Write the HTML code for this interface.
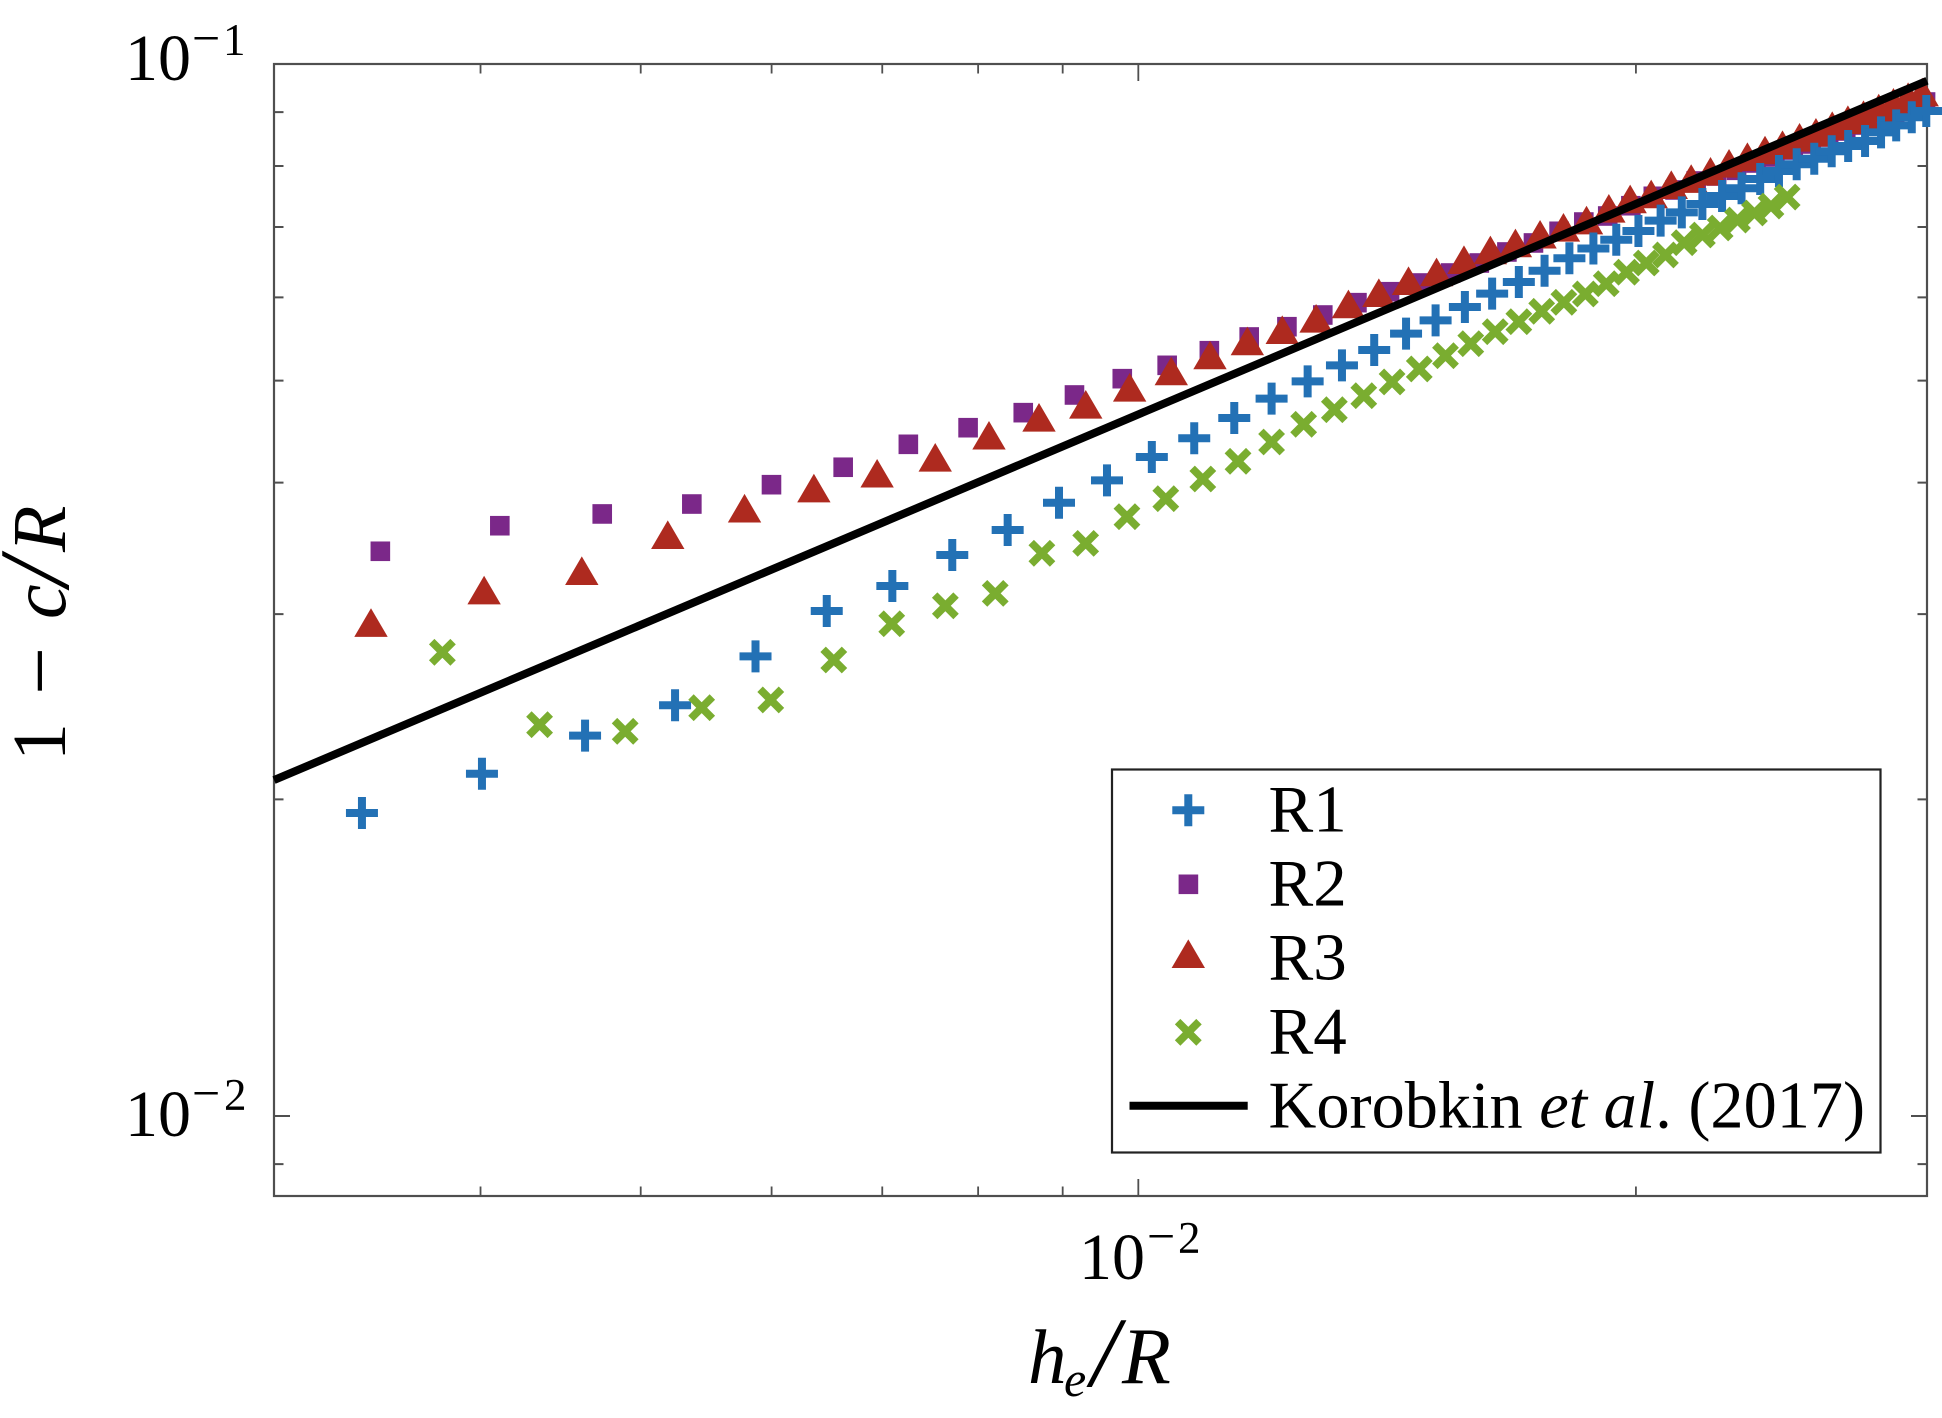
<!DOCTYPE html>
<html lang="en">
<head>
<meta charset="utf-8">
<title>1 - c/R versus h_e/R</title>
<style>
html,body{margin:0;padding:0;background:#fff;}
svg{display:block;}
text{font-family:"Liberation Serif","Times New Roman",serif;fill:#000;}
</style>
</head>
<body>
<svg id="chart" xmlns="http://www.w3.org/2000/svg" width="1942" height="1418" viewBox="0 0 1942 1418">
  <rect x="0" y="0" width="1942" height="1418" fill="#fff"/>
  <g id="ticks"></g>
  <rect x="274" y="64" width="1653" height="1132" fill="none" stroke="#4f4f4f" stroke-width="2.2"/>

  <text font-size="66" x="125" y="80">10<tspan x="192" y="55" font-size="50">−</tspan><tspan x="223" y="55" font-size="45">1</tspan></text>
  <text font-size="66" x="125" y="1136">10<tspan x="192" y="1110" font-size="50">−</tspan><tspan x="224" y="1110" font-size="45">2</tspan></text>
  <text font-size="66" x="1079" y="1279">10<tspan x="1147" y="1253" font-size="50">−</tspan><tspan x="1178" y="1253" font-size="45">2</tspan></text>

  <text font-style="italic" font-size="77" x="1028" y="1383">h<tspan x="1064" y="1396" font-size="50">e</tspan><tspan x="1091" y="1386" font-size="100">/</tspan><tspan x="1122" y="1383" font-size="80">R</tspan></text>
  <g transform="translate(65,752) rotate(-90)">
    <text font-size="76" x="-9" y="0">1<tspan x="57" y="3" font-size="85">−</tspan><tspan x="133" y="0" font-style="italic" font-size="78">c</tspan><tspan x="166" y="3" font-size="100" font-style="italic">/</tspan><tspan x="200" y="0" font-style="italic">R</tspan></text>
  </g>

  <g id="marks"></g>

  <g>
    <rect x="1112" y="769.5" width="768.5" height="383" fill="#fff" stroke="#222" stroke-width="2.2"/>
    <path d="M1172.3 810.3H1204.3M1188.3 794.3V826.3" stroke="#2371b5" stroke-width="8" fill="none"/>
    <rect x="1178.6" y="874.5" width="19.6" height="19.6" fill="#7b2889"/>
    <polygon points="1188.3,939.4 1205,968 1171.6,968" fill="#ae2a1f"/>
    <path d="M1177.6 1021.6L1199 1043M1199 1021.6L1177.6 1043" stroke="#7aad30" stroke-width="7.7" fill="none"/>
    <line x1="1129.5" y1="1105.7" x2="1247.7" y2="1105.7" stroke="#000" stroke-width="8"/>
    <text font-size="67" x="1268.5" y="831.7">R1</text>
    <text font-size="67" x="1268.5" y="905.7">R2</text>
    <text font-size="67" x="1268.5" y="979.7">R3</text>
    <text font-size="67" x="1268.5" y="1053.7">R4</text>
    <text font-size="66.3" x="1268.5" y="1127.3">Korobkin <tspan font-style="italic">et al</tspan>. (2017)</text>
  </g>
</svg>
<script>
var xMinorTicks = [0.004, 0.005, 0.006, 0.007, 0.008, 0.009, 0.02];
var xMajorTicks = [0.01];
var yMinorTicks = [0.009, 0.02, 0.03, 0.04, 0.05, 0.06, 0.07, 0.08, 0.09];
var yMajorTicks = [0.01];

var r1X = [0.003391,0.004008,0.004627,0.005245,0.005867,0.006479,0.007099,0.007717,0.008336,0.008954,0.009573,0.01019,0.01081,0.01143,0.01204,0.01266,0.01328,0.01389,0.01452,0.01513,0.01576,0.01637,0.01699,0.01761,0.01823,0.01885,0.01946,0.02007,0.02070,0.02132,0.02194,0.02255,0.02317,0.02378,0.02441,0.02502,0.02564,0.02627,0.02688,0.02752,0.02814,0.02874,0.02937,0.02997];
var r1Y = [0.01941,0.02115,0.02299,0.02457,0.02735,0.03020,0.03190,0.03414,0.03606,0.03828,0.04020,0.04231,0.04408,0.04608,0.04807,0.04993,0.05171,0.05347,0.05542,0.05706,0.05875,0.06049,0.06205,0.06361,0.06537,0.06678,0.06807,0.06938,0.07097,0.07228,0.07361,0.07491,0.07618,0.07775,0.07912,0.08029,0.08128,0.08261,0.08357,0.08449,0.08611,0.08744,0.08899,0.09022];

var r2X = [0.003479,0.004109,0.004739,0.005369,0.005999,0.006629,0.007259,0.007889,0.008519,0.009149,0.009779,0.01041,0.01104,0.01167,0.01230,0.01293,0.01356,0.01419,0.01482,0.01545,0.01608,0.01671,0.01734,0.01797,0.01860,0.01923,0.01986,0.02049,0.02112,0.02175,0.02238,0.02301,0.02364,0.02427,0.02490,0.02553,0.02616,0.02679,0.02742,0.02805,0.02868,0.02931,0.02994];
var r2Y = [0.03442,0.03640,0.03735,0.03817,0.03982,0.04137,0.04350,0.04511,0.04662,0.04846,0.05022,0.05171,0.05339,0.05502,0.05627,0.05773,0.05931,0.06075,0.06192,0.06329,0.06469,0.06627,0.06759,0.06934,0.07076,0.07170,0.07333,0.07486,0.07590,0.07741,0.07826,0.07924,0.08052,0.08158,0.08284,0.08394,0.08523,0.08636,0.08750,0.08866,0.08983,0.09082,0.09202];

var r3X = [0.003434,0.004020,0.004606,0.005192,0.005778,0.006364,0.006950,0.007536,0.008122,0.008708,0.009294,0.009880,0.01047,0.01105,0.01164,0.01222,0.01281,0.01340,0.01398,0.01457,0.01515,0.01574,0.01633,0.01691,0.01750,0.01808,0.01867,0.01926,0.01984,0.02043,0.02101,0.02160,0.02219,0.02277,0.02336,0.02394,0.02453,0.02512,0.02570,0.02629,0.02687,0.02746,0.02805,0.02863,0.02922,0.02980];
var r3Y = [0.02945,0.03162,0.03299,0.03569,0.03782,0.03953,0.04083,0.04228,0.04437,0.04615,0.04748,0.04928,0.05107,0.05289,0.05454,0.05590,0.05731,0.05914,0.06062,0.06223,0.06343,0.06516,0.06656,0.06759,0.06889,0.06995,0.07107,0.07292,0.07442,0.07524,0.07679,0.07783,0.07907,0.08047,0.08164,0.08284,0.08381,0.08518,0.08611,0.08737,0.08852,0.08950,0.09082,0.09196,0.09309,0.09405];

var r4X = [0.003793,0.004343,0.004893,0.005443,0.005993,0.006543,0.007093,0.007643,0.008193,0.008743,0.009293,0.009843,0.01039,0.01094,0.01149,0.01204,0.01259,0.01314,0.01369,0.01424,0.01479,0.01534,0.01589,0.01644,0.01699,0.01754,0.01809,0.01864,0.01919,0.01974,0.02029,0.02084,0.02139,0.02194,0.02249,0.02304,0.02359,0.02414,0.02469];
var r4Y = [0.02759,0.02355,0.02321,0.02444,0.02486,0.02713,0.02937,0.03055,0.03139,0.03427,0.03502,0.03713,0.03862,0.04032,0.04191,0.04372,0.04545,0.04692,0.04838,0.04986,0.05130,0.05281,0.05422,0.05566,0.05689,0.05820,0.05936,0.06045,0.06182,0.06340,0.06469,0.06584,0.06763,0.06878,0.06984,0.07107,0.07217,0.07328,0.07474];

var korobkinX = [0.003, 0.03];
var korobkinY = [0.02086, 0.0964];

(function () {
  var NS = 'http://www.w3.org/2000/svg';
  var left = 274, right = 1927, top = 64, bottom = 1196;
  var xLogMin = Math.log10(0.003), xLogMax = Math.log10(0.03);
  var yDecade = 1052;

  function sx(v) { return left + (Math.log10(v) - xLogMin) / (xLogMax - xLogMin) * (right - left); }
  function sy(v) { return top + (-1 - Math.log10(v)) * yDecade; }

  function make(tag, attrs, parent) {
    var el = document.createElementNS(NS, tag);
    for (var k in attrs) { el.setAttribute(k, attrs[k]); }
    parent.appendChild(el);
    return el;
  }

  var ticks = document.getElementById('ticks');
  var marks = document.getElementById('marks');
  var tickStyle = { stroke: '#4f4f4f', fill: 'none' };

  function drawXTick(v, len) {
    var x = sx(v);
    var el = make('path', { d: 'M' + x + ' ' + bottom + 'V' + (bottom - len) + 'M' + x + ' ' + top + 'V' + (top + len), stroke: tickStyle.stroke, 'stroke-width': 1.8, fill: 'none' }, ticks);
    
    
  }
  function drawYTick(v, len) {
    var y = sy(v);
    var el = make('path', { d: 'M' + left + ' ' + y + 'H' + (left + len) + 'M' + right + ' ' + y + 'H' + (right - len), stroke: tickStyle.stroke, 'stroke-width': 2, fill: 'none' }, ticks);
    
    
  }
  xMinorTicks.forEach(function (v) { drawXTick(v, 9.5); });
  xMajorTicks.forEach(function (v) { drawXTick(v, 17); });
  yMinorTicks.forEach(function (v) { drawYTick(v, 9.5); });
  yMajorTicks.forEach(function (v) { drawYTick(v, 16); });

  // R2 squares
  r2X.forEach(function (v, i) {
    var x = sx(v), y = sy(r2Y[i]);
    var el = make('rect', { x: x - 9.8, y: y - 9.8, width: 19.6, height: 19.6, fill: '#7b2889' }, marks);
    
    
  });

  // R3 triangles
  r3X.forEach(function (v, i) {
    var x = sx(v), y = sy(r3Y[i]);
    var pts = x + ',' + (y - 14.3) + ' ' + (x + 16.7) + ',' + (y + 14.3) + ' ' + (x - 16.7) + ',' + (y + 14.3);
    var el = make('polygon', { points: pts, fill: '#ae2a1f' }, marks);
    
    
  });

  // R1 plus signs
  r1X.forEach(function (v, i) {
    var x = sx(v), y = sy(r1Y[i]);
    var d = 'M' + (x - 16) + ' ' + y + 'H' + (x + 16) + 'M' + x + ' ' + (y - 16) + 'V' + (y + 16);
    var el = make('path', { d: d, stroke: '#2371b5', 'stroke-width': 8, fill: 'none' }, marks);
    
    
  });

  // R4 crosses
  r4X.forEach(function (v, i) {
    var x = sx(v), y = sy(r4Y[i]), a = 10.7;
    var d = 'M' + (x - a) + ' ' + (y - a) + 'L' + (x + a) + ' ' + (y + a) + 'M' + (x + a) + ' ' + (y - a) + 'L' + (x - a) + ' ' + (y + a);
    var el = make('path', { d: d, stroke: '#7aad30', 'stroke-width': 7.7, fill: 'none' }, marks);
    
    
  });

  // Korobkin et al. (2017) line
  var linePts = korobkinX.map(function (v, i) { return sx(v) + ',' + sy(korobkinY[i]); }).join(' ');
  var line = make('polyline', { points: linePts, stroke: '#000', 'stroke-width': 8, fill: 'none' }, marks);
  
  
})();
</script>
</body>
</html>
